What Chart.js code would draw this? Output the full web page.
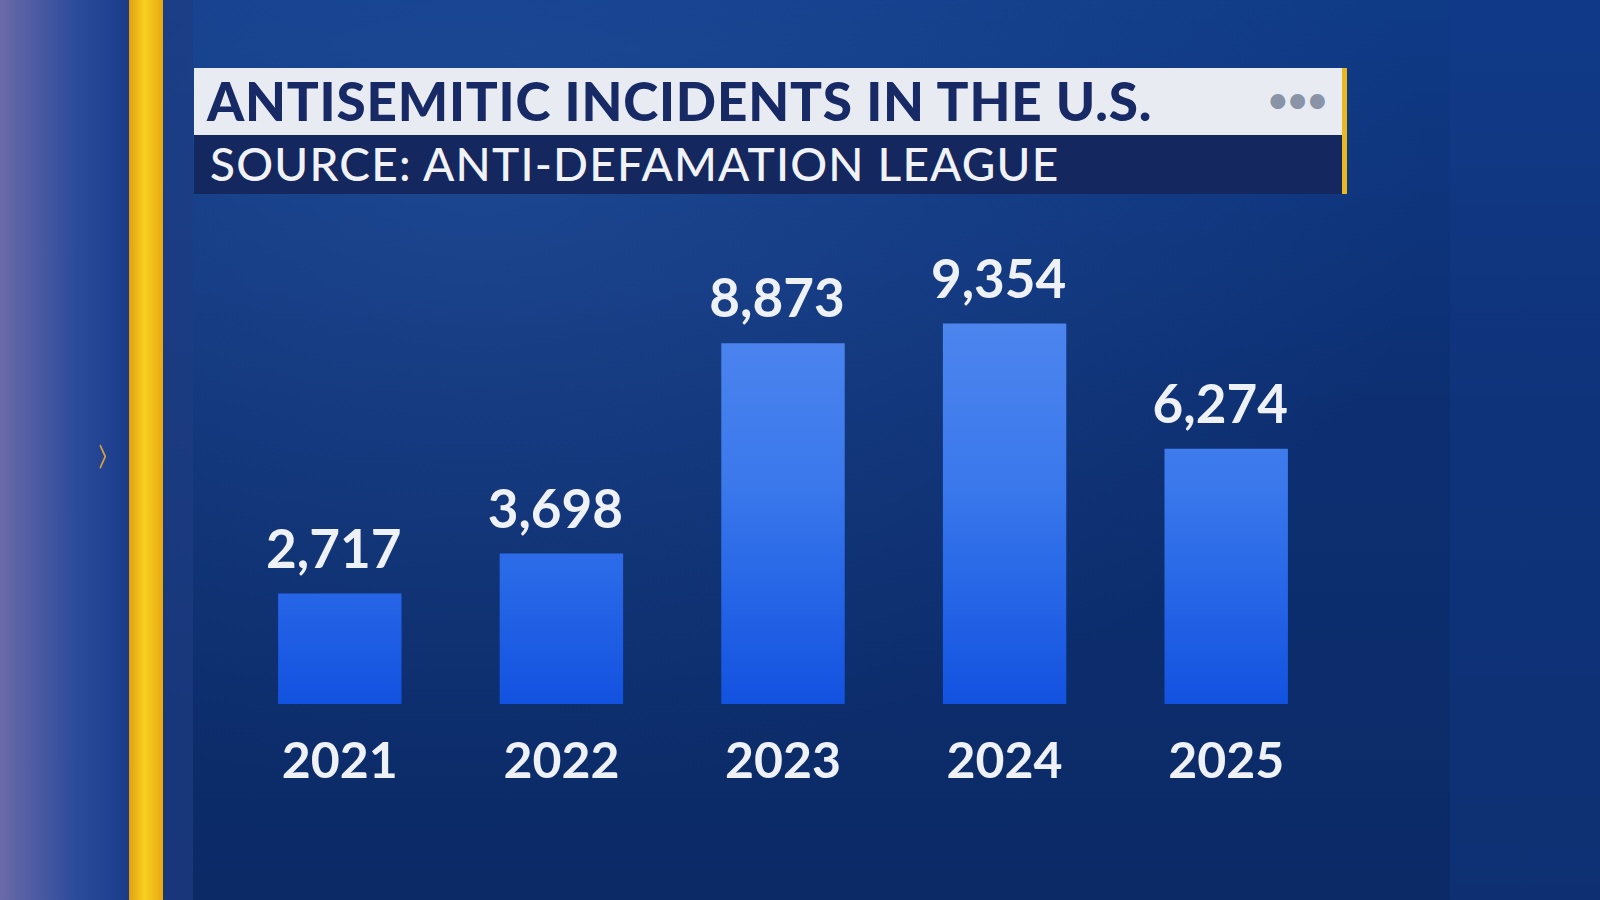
<!DOCTYPE html>
<html><head><meta charset="utf-8">
<script src="https://cdn.jsdelivr.net/npm/chart.js@4"></script>
<style>
html,body{margin:0;padding:0;width:1600px;height:900px;overflow:hidden;font-family:Lato,"Open Sans",sans-serif}
#bg{position:absolute;left:0;top:0;width:1600px;height:900px;background:linear-gradient(180deg,#0f3a86 0%,#0d2f72 45%,#0b2a66 100%)}
#bg2{position:absolute;left:0;top:0;width:1600px;height:900px;background:radial-gradient(ellipse at 30% 20%,rgba(60,110,190,0.3),rgba(0,0,0,0) 60%)}
#left{position:absolute;left:0;top:0;width:130px;height:900px;background:linear-gradient(90deg,#6a6aa8 0%,#2a4a9a 60%,#1a3a8a 100%)}
#yellow{position:absolute;left:129px;top:0;width:34px;height:900px;background:linear-gradient(90deg,#e0a010,#f8d020 45%,#e8a810)}
#yline{position:absolute;left:163px;top:0;width:30px;height:900px;background:rgba(30,60,130,0.7)}
#rightband{position:absolute;left:1450px;top:0;width:150px;height:900px;background:rgba(20,60,140,0.35)}
#arrow{position:absolute;left:94px;top:410px;color:#d8a040;font-size:64px;font-weight:300;transform:scaleX(0.7)}
#tbox{position:absolute;left:194px;top:68px;width:1152px;height:67px;background:#e8ecf2}
#title{position:absolute;left:207px;top:69px;font-size:53px;font-weight:900;color:#172a66;letter-spacing:0.8px}
#dots{position:absolute;left:1268px;top:78px;font-size:34px;color:#8a94a8;font-weight:bold}
#sbox{position:absolute;left:194px;top:135px;width:1152px;height:59px;background:#14275e}
#sub{position:absolute;left:210px;top:136px;font-size:46px;color:#f0f2f6;font-weight:500;letter-spacing:1.2px}
#edge{position:absolute;left:1342px;top:68px;width:5px;height:126px;background:#e8b820}
#c{position:absolute;left:0;top:0}
</style></head><body>
<div id="bg"></div><div id="bg2"></div><div id="rightband"></div>
<div id="left"></div><div id="yellow"></div><div id="yline"></div>
<div id="arrow">&#8250;</div>
<div id="tbox"></div><div id="title">ANTISEMITIC INCIDENTS IN THE U.S.</div><div id="dots">&#8226;&#8226;&#8226;</div>
<div id="sbox"></div><div id="sub">SOURCE: ANTI-DEFAMATION LEAGUE</div><div id="edge"></div>
<canvas id="c" width="1600" height="900"></canvas>
<script>
const years = ["2021","2022","2023","2024","2025"];
const incidents = [2717,3698,8873,9354,6274];
const valueLabels = ["2,717","3,698","8,873","9,354","6,274"];

const labelPlugin = {
  id:'vals',
  afterDatasetsDraw(chart){
    const ctx = chart.ctx;
    const meta = chart.getDatasetMeta(0);
    ctx.save();
    ctx.font = 'bold 53px Lato, "Open Sans", sans-serif';
    ctx.fillStyle = '#eef1f6';
    ctx.textAlign = 'center';
    ctx.textBaseline = 'alphabetic';
    meta.data.forEach((b,i)=>{ ctx.fillText(valueLabels[i], b.x - 6, b.y - 26); });
    ctx.restore();
  }
};

new Chart(document.getElementById('c'), {
  type:'bar',
  data:{labels:years, datasets:[{data:incidents,
    backgroundColor:(c)=>{
      const a=c.chart.chartArea; if(!a) return '#2a6ae8';
      const g=c.chart.ctx.createLinearGradient(0,a.top,0,a.bottom);
      g.addColorStop(0,'#5a8ef0'); g.addColorStop(0.55,'#3a78ec'); g.addColorStop(1,'#1252e0');
      return g;},
    barPercentage:0.557, categoryPercentage:1}]},
  options:{responsive:false, animation:false,
    layout:{padding:{left:229,right:263,top:216,bottom:88}},
    plugins:{legend:{display:false},tooltip:{enabled:false}},
    scales:{
      x:{grid:{display:false},border:{display:false},
        ticks:{color:'#eef1f6',padding:20,font:{size:50,weight:'bold',family:'Lato, "Open Sans", sans-serif'}}},
      y:{display:false,min:0,max:12000}
    }},
  plugins:[labelPlugin]
});
</script>
</body></html>
